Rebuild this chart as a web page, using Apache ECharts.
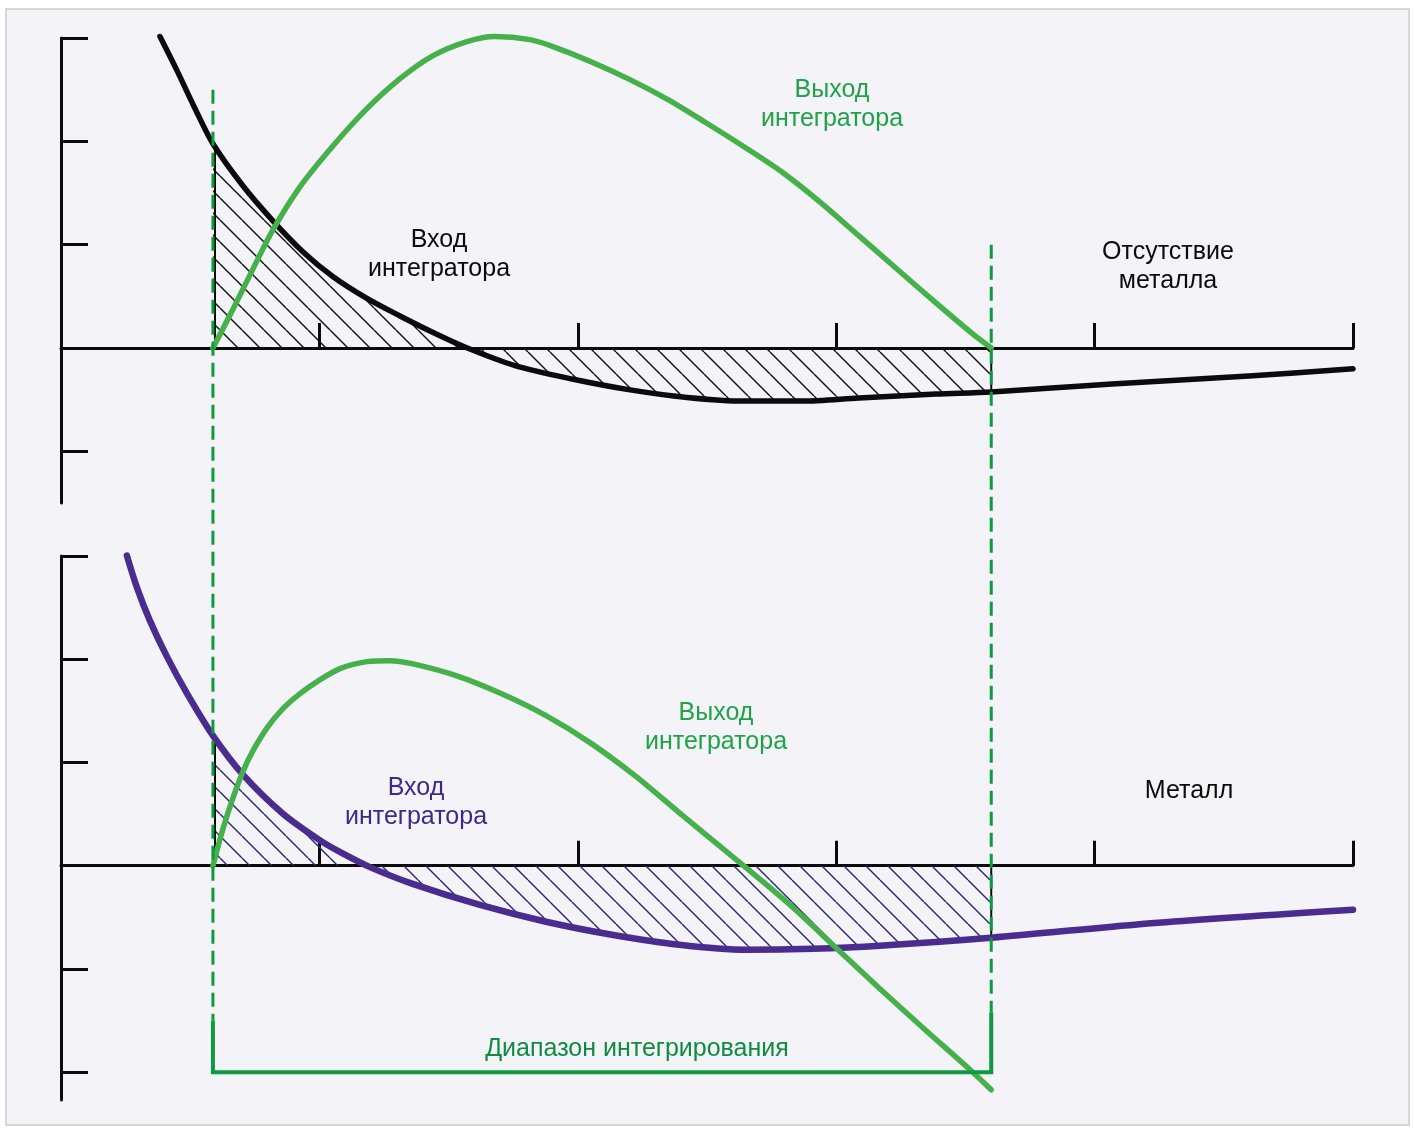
<!DOCTYPE html>
<html><head><meta charset="utf-8">
<script src="https://cdn.jsdelivr.net/npm/echarts@6/dist/echarts.min.js"></script>
<style>
html,body{margin:0;padding:0;background:#fff}
#frame{position:absolute;left:5px;top:8px;width:1401px;height:1114px;background:#f3f3f8;border:2px solid #d6d6d9}
#c{position:absolute;left:0;top:0;width:1414px;height:1130px}
</style>
</head><body><div id="frame"></div><div id="c"></div>
<script>
// ---- axes / ticks ----
const xTicks = [1, 2, 3, 4, 5];
const yTicksTop = [-1, 0, 1, 2, 3];
const yTicksBottom = [-2, -1, 0, 1, 2, 3];

// ---- integration range ----
const rangeStart = 0.588;
const rangeEnd = 3.6;
const dashTopStart = 2.5;   // top of left dashed line (top-panel units)
const dashTopEnd = 1.0;     // top of right dashed line (top-panel units)
const bracketLevel = -2;    // bottom-panel units
const solidStartLeft = -1.5;
const solidStartRight = -1.42;

// ---- top panel: no metal ----
const topInX = [0.383, 0.449, 0.519, 0.588, 0.704, 0.820, 0.937, 1.053, 1.184, 1.312, 1.440, 1.563, 1.757, 1.978, 2.202, 2.423, 2.643, 2.868, 3.088, 3.386, 3.6, 4.067, 4.597, 5.0];
const topInY = [3.014, 2.684, 2.316, 1.977, 1.570, 1.231, 0.930, 0.690, 0.480, 0.310, 0.150, 0.010, -0.170, -0.300, -0.405, -0.478, -0.514, -0.514, -0.484, -0.446, -0.426, -0.349, -0.271, -0.200];
const topOutX = [0.588, 0.666, 0.743, 0.820, 0.925, 1.053, 1.184, 1.312, 1.440, 1.571, 1.680, 1.815, 1.904, 2.051, 2.202, 2.349, 2.496, 2.643, 2.794, 2.941, 3.088, 3.235, 3.386, 3.533, 3.6];
const topOutY = [0, 0.378, 0.766, 1.143, 1.560, 1.957, 2.316, 2.606, 2.829, 2.965, 3.014, 2.984, 2.917, 2.771, 2.597, 2.403, 2.180, 1.948, 1.696, 1.405, 1.085, 0.765, 0.436, 0.126, 0];

// ---- bottom panel: metal ----
const botInX = [0.255, 0.294, 0.344, 0.410, 0.488, 0.588, 0.704, 0.859, 1.010, 1.099, 1.200, 1.358, 1.618, 1.877, 2.132, 2.392, 2.651, 2.910, 3.169, 3.6, 4.245, 5.0];
const botInY = [3.004, 2.694, 2.374, 2.025, 1.667, 1.260, 0.882, 0.504, 0.233, 0.107, -0.019, -0.174, -0.378, -0.543, -0.669, -0.766, -0.814, -0.804, -0.775, -0.698, -0.552, -0.426];
const botOutX = [0.588, 0.627, 0.666, 0.704, 0.743, 0.801, 0.859, 0.925, 0.991, 1.080, 1.184, 1.273, 1.358, 1.529, 1.703, 1.877, 2.047, 2.221, 2.392, 2.566, 2.651, 2.825, 2.999, 3.169, 3.344, 3.518, 3.6];
const botOutY = [0, 0.359, 0.659, 0.911, 1.114, 1.347, 1.521, 1.666, 1.783, 1.909, 1.977, 1.986, 1.957, 1.841, 1.667, 1.453, 1.192, 0.872, 0.514, 0.155, -0.019, -0.388, -0.795, -1.192, -1.589, -1.977, -2.171];

// ---- labels ----
const lblOut = 'Выход\nинтегратора';
const lblIn = 'Вход\nинтегратора';
const lblNoMetal = 'Отсутствие\nметалла';
const lblMetal = 'Металл';
const lblRange = 'Диапазон интегрирования';

const C_BLACK = '#0b0b0b', C_GREEN = '#46b04a', C_DGREEN = '#0e9a40', C_PURPLE = '#4a2c8e', C_TXTGREEN = '#1fa248', C_TXTPURPLE = '#3d2a88';
const FONT = '"Liberation Sans", Arial, sans-serif';

function zip(xs, ys) { return xs.map((x, i) => [x, ys[i]]); }
function within(xs, ys) { return zip(xs, ys).filter(p => p[0] >= rangeStart - 1e-9 && p[0] <= rangeEnd + 1e-9); }
function valAt(xs, ys, x) { const i = xs.findIndex(v => Math.abs(v - x) < 1e-9); return ys[i]; }
function hatch(color) {
  const w = 22, h = 22;
  const cv = document.createElement('canvas'); cv.width = w; cv.height = h;
  const g = cv.getContext('2d');
  g.strokeStyle = color; g.lineWidth = 1.4;
  for (const x0 of [-w, 0, w]) { g.beginPath(); g.moveTo(x0, 0); g.lineTo(x0 + w, h); g.stroke(); }
  return { image: cv, repeat: 'repeat' };
}

const chart = echarts.init(document.getElementById('c'), null, { renderer: 'canvas' });

function xAxis(gi) {
  return {
    type: 'value', gridIndex: gi, min: 0, max: 5,
    axisLine: { show: true, onZero: true, lineStyle: { color: C_BLACK, width: 3 } },
    axisTick: { show: true, inside: true, length: 25, customValues: xTicks, lineStyle: { color: C_BLACK, width: 3 } },
    axisLabel: { show: false }, splitLine: { show: false }
  };
}
function yAxis(gi, min, max, ticks) {
  return {
    type: 'value', gridIndex: gi, min: min, max: max,
    axisLine: { show: true, onZero: false, lineStyle: { color: C_BLACK, width: 3 } },
    axisTick: { show: true, inside: true, length: 27, customValues: ticks, lineStyle: { color: C_BLACK, width: 3 } },
    axisLabel: { show: false }, splitLine: { show: false }
  };
}
function lineS(gi, data, color, width, z, extra) {
  return Object.assign({
    type: 'line', xAxisIndex: gi, yAxisIndex: gi, data: data, symbol: 'none', smooth: 0.3, clip: false,
    lineStyle: { color: color, width: width, cap: 'round', join: 'round' }, z: z, silent: true, animation: false
  }, extra || {});
}

const option = {
  backgroundColor: 'transparent',
  animation: false,
  grid: [
    { left: 61, right: 61, top: 38, height: 465 },
    { left: 61, right: 61, top: 556, height: 544 }
  ],
  xAxis: [xAxis(0), xAxis(1)],
  yAxis: [yAxis(0, -1.5, 3, yTicksTop), yAxis(1, -2.27, 3, yTicksBottom)],
  series: [
    lineS(0, within(topInX, topInY), C_BLACK, 0, 1, { areaStyle: { color: hatch('#111'), opacity: 1 }, lineStyle: { width: 0 } }),
    lineS(0, [[rangeStart + 0.008, 0], [rangeStart + 0.008, valAt(topInX, topInY, rangeStart)]], C_BLACK, 2, 2, { smooth: false }),
    lineS(0, [[rangeEnd, 0], [rangeEnd, valAt(topInX, topInY, rangeEnd)]], C_BLACK, 2, 2, { smooth: false }),
    lineS(0, zip(topInX, topInY), C_BLACK, 5.5, 3),
    lineS(0, zip(topOutX, topOutY), C_GREEN, 5.5, 4),

    lineS(1, within(botInX, botInY), C_PURPLE, 0, 1, { areaStyle: { color: hatch('#2c2477'), opacity: 1 }, lineStyle: { width: 0 } }),
    lineS(1, [[rangeStart + 0.008, 0], [rangeStart + 0.008, valAt(botInX, botInY, rangeStart)]], C_BLACK, 2, 2, { smooth: false }),
    lineS(1, [[rangeEnd, 0], [rangeEnd, valAt(botInX, botInY, rangeEnd)]], C_BLACK, 2, 2, { smooth: false }),
    lineS(1, zip(botInX, botInY), C_PURPLE, 6.5, 3),
    lineS(1, zip(botOutX, botOutY), C_GREEN, 5.5, 4),
    lineS(1, [[rangeStart, solidStartLeft], [rangeStart, bracketLevel], [rangeEnd, bracketLevel], [rangeEnd, solidStartRight]], C_DGREEN, 4, 5, { smooth: false, lineStyle: { color: C_DGREEN, width: 4, cap: 'butt', join: 'miter' } })
  ]
};
chart.setOption(option);

// dashed range lines spanning both panels (positions from the axes)
const xl = chart.convertToPixel({ xAxisIndex: 0 }, rangeStart);
const xr = chart.convertToPixel({ xAxisIndex: 0 }, rangeEnd);
const ylTop = chart.convertToPixel({ yAxisIndex: 0 }, dashTopStart);
const yrTop = chart.convertToPixel({ yAxisIndex: 0 }, dashTopEnd);
const ylBot = chart.convertToPixel({ yAxisIndex: 1 }, solidStartLeft);
const yrBot = chart.convertToPixel({ yAxisIndex: 1 }, solidStartRight);
const dashStyle = { stroke: C_DGREEN, lineWidth: 3, lineDash: [14, 7] };

function txt(x, y, text, color, size) {
  return { type: 'text', x: x, y: y, z: 50, silent: true,
    style: { text: text, fill: color, font: (size || 25) + 'px ' + FONT, align: 'center', verticalAlign: 'middle', lineHeight: 29 } };
}

chart.setOption({
  graphic: [
    { type: 'line', z: 40, silent: true, shape: { x1: xl, y1: ylTop, x2: xl, y2: ylBot }, style: dashStyle },
    { type: 'line', z: 40, silent: true, shape: { x1: xr, y1: yrTop, x2: xr, y2: yrBot }, style: dashStyle },
    txt(832, 105, lblOut, C_TXTGREEN),
    txt(439, 255, lblIn, C_BLACK),
    txt(1168, 267, lblNoMetal, C_BLACK),
    txt(716, 728, lblOut, C_TXTGREEN),
    txt(416, 803, lblIn, C_TXTPURPLE),
    txt(1189, 791, lblMetal, C_BLACK),
    txt(637, 1049, lblRange, '#0f8c42')
  ]
});
</script>
</body></html>
